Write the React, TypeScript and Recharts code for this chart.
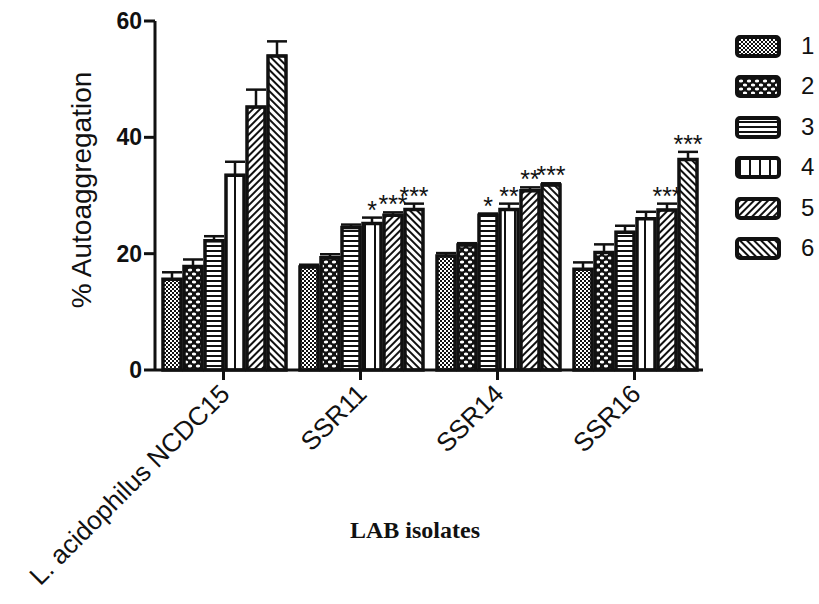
import React from "react"
import { BarChart, Bar, XAxis, YAxis, ErrorBar, LabelList } from "recharts"

const categories = ["L. acidophilus NCDC15", "SSR11", "SSR14", "SSR16"]
const series1 = [15.6, 17.7, 19.6, 17.3]
const series2 = [17.8, 19.3, 21.5, 20.2]
const series3 = [22.2, 24.5, 26.6, 23.7]
const series4 = [33.5, 25.2, 27.6, 26.0]
const series5 = [45.2, 26.6, 30.8, 27.5]
const series6 = [54.0, 27.6, 31.8, 36.2]
const err1 = [1.2, 0.4, 0.5, 1.2]
const err2 = [1.2, 0.6, 0.3, 1.4]
const err3 = [0.8, 0.5, 0.3, 1.1]
const err4 = [2.3, 1.0, 1.0, 1.2]
const err5 = [3.0, 0.5, 0.6, 1.1]
const err6 = [2.5, 1.0, 0.3, 1.3]
const stars1 = ["", "", "", ""]
const stars2 = ["", "", "", ""]
const stars3 = ["", "", "*", ""]
const stars4 = ["", "*", "**", ""]
const stars5 = ["", "***", "**", "***"]
const stars6 = ["", "***", "***", "***"]
const seriesNames = ["1", "2", "3", "4", "5", "6"]
const yTicks = [0, 20, 40, 60]

const values = [series1, series2, series3, series4, series5, series6]
const errors = [err1, err2, err3, err4, err5, err6]
const stars = [stars1, stars2, stars3, stars4, stars5, stars6]

const data = categories.map((name, i) => {
  const row: any = { name }
  values.forEach((s, k) => {
    row["v" + k] = s[i]
    row["e" + k] = [0, errors[k][i]]
    row["s" + k] = stars[k][i]
  })
  return row
})

function Patterns() {
  return (
    <svg width={0} height={0} style={{ position: "absolute" }}>
      <defs>
        <pattern id="p0" width={4} height={4} patternUnits="userSpaceOnUse">
          <rect width={4} height={4} fill="#fff" />
          <rect width={2} height={2} fill="#111" />
          <rect x={2} y={2} width={2} height={2} fill="#111" />
        </pattern>
        <pattern id="p1" width={8} height={8} patternUnits="userSpaceOnUse">
          <rect width={8} height={8} fill="#111" />
          <ellipse cx={2} cy={2} rx={2.2} ry={1.6} fill="#fff" />
          <ellipse cx={6} cy={6} rx={2.2} ry={1.6} fill="#fff" />
        </pattern>
        <pattern id="p2" width={5} height={5} patternUnits="userSpaceOnUse">
          <rect width={5} height={5} fill="#fff" />
          <rect y={0} width={5} height={2} fill="#111" />
        </pattern>
        <pattern id="p3" width={10} height={10} patternUnits="userSpaceOnUse">
          <rect width={10} height={10} fill="#fff" />
          <rect x={4} width={2} height={10} fill="#111" />
        </pattern>
        <pattern id="p4" width={5} height={5} patternUnits="userSpaceOnUse" patternTransform="rotate(45)">
          <rect width={5} height={5} fill="#fff" />
          <rect width={2} height={5} fill="#111" />
        </pattern>
        <pattern id="p5" width={5} height={5} patternUnits="userSpaceOnUse" patternTransform="rotate(-45)">
          <rect width={5} height={5} fill="#fff" />
          <rect width={2} height={5} fill="#111" />
        </pattern>
      </defs>
    </svg>
  )
}

const XTick = ({ x, y, payload }: any) => (
  <g transform={`translate(${x},${y})`}>
    <text
      x={0}
      y={0}
      dx={-4}
      dy={15}
      transform="rotate(-45)"
      textAnchor="end"
      fontFamily="Liberation Sans, Arial, sans-serif"
      fontSize={26}
      fill="#111"
    >
      {payload.value}
    </text>
  </g>
)

const makeStar = (k: number) => (props: any) => {
  const { x, y, width, height, value, index } = props
  if (!value) return null
  const v = values[k][index]
  const errPx = (errors[k][index] * height) / v
  return (
    <text
      x={x + width / 2}
      y={y - errPx + 1}
      textAnchor="middle"
      fontFamily="Liberation Sans, Arial, sans-serif"
      fontSize={25}
      fill="#111"
    >
      {value}
    </text>
  )
}

export default function App() {
  return (
    <div style={{ position: "absolute", left: 0, top: 0, width: 819, height: 604, background: "#fff" }}>
      <Patterns />
      <BarChart
        width={819}
        height={604}
        data={data}
        margin={{ top: 21, right: 116, bottom: 0, left: 0 }}
        barCategoryGap={8}
        barGap={3}
      >
        <XAxis
          dataKey="name"
          height={234}
          interval={0}
          tick={<XTick />}
          tickSize={10}
          axisLine={{ stroke: "#111", strokeWidth: 3 }}
          tickLine={{ stroke: "#111", strokeWidth: 3 }}
          label={({ viewBox }: any) => (
            <text
              x={viewBox.x + viewBox.width / 2 - 14}
              y={viewBox.y + 168}
              textAnchor="middle"
              fontFamily="Liberation Serif, Times New Roman, serif"
              fontWeight="bold"
              fontSize={24}
              fill="#111"
            >
              LAB isolates
            </text>
          )}
        />
        <YAxis
          width={155}
          domain={[0, 60]}
          ticks={yTicks}
          interval={0}
          tickSize={11}
          tickMargin={2}
          axisLine={{ stroke: "#111", strokeWidth: 3 }}
          tickLine={{ stroke: "#111", strokeWidth: 3 }}
          tick={{ fill: "#111", fontSize: 23, fontWeight: "bold", fontFamily: "Liberation Sans, Arial, sans-serif" }}
          label={({ viewBox }: any) => (
            <text
              x={0}
              y={0}
              transform={`translate(${viewBox.x + 91},${viewBox.y + 169}) rotate(-90)`}
              textAnchor="middle"
              fontFamily="Liberation Sans, Arial, sans-serif"
              fontSize={28}
              fill="#111"
            >
              % Autoaggregation
            </text>
          )}
        />
        {seriesNames.map((n, k) => (
          <Bar
            key={n}
            dataKey={"v" + k}
            name={n}
            fill={`url(#p${k})`}
            stroke="#111"
            strokeWidth={3.5}
            isAnimationActive={false}
          >
            <ErrorBar dataKey={"e" + k} direction="y" width={10} stroke="#111" strokeWidth={2.5} />
            <LabelList dataKey={"s" + k} content={makeStar(k)} />
          </Bar>
        ))}
      </BarChart>
      <div style={{ position: "absolute", left: 735, top: 35 }}>
        {seriesNames.map((n, k) => (
          <div key={n} style={{ position: "absolute", left: 0, top: k * 40.4, width: 90, height: 22 }}>
            <svg width={46} height={23} style={{ position: "absolute", left: 0, top: 0 }}>
              <rect x={2} y={2} width={42} height={19} rx={3} fill={`url(#p${k})`} stroke="#111" strokeWidth={4} />
            </svg>
            <span
              style={{
                position: "absolute",
                left: 66,
                top: -4,
                fontFamily: "Liberation Sans, Arial, sans-serif",
                fontSize: 24,
                color: "#111",
                lineHeight: "30px",
              }}
            >
              {n}
            </span>
          </div>
        ))}
      </div>
    </div>
  )
}
